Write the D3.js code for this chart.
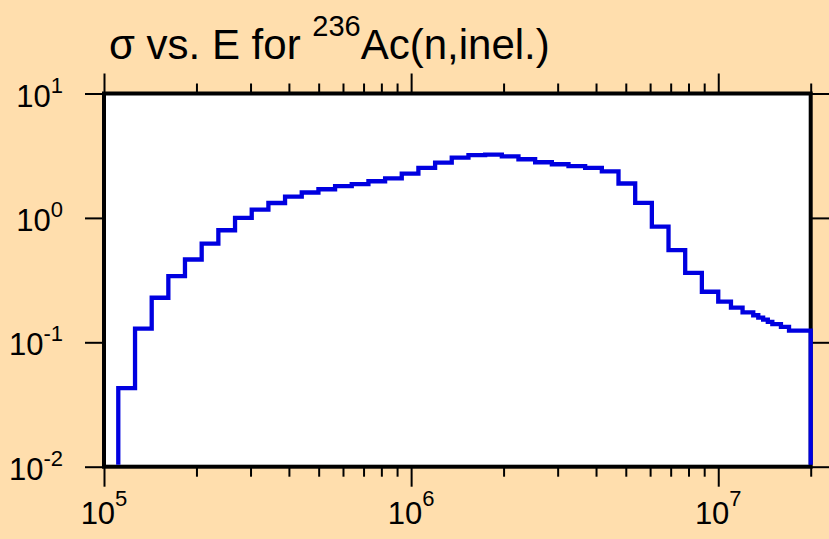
<!DOCTYPE html>
<html><head><meta charset="utf-8">
<script src="https://cdn.jsdelivr.net/npm/d3@7"></script>
<style>
body{margin:0;background:#FFDEAD;}
svg{display:block;}
text{font-family:"Liberation Sans",Arial,Helvetica,sans-serif;fill:#000;}
</style>
</head><body>
<svg id="chart" width="829" height="539"></svg>
<script>
// Bin edges (eV) and cross sections (b)
const binEdges = [1.113e5,1.262e5,1.430e5,1.620e5,1.835e5,2.080e5,2.357e5,2.671e5,3.027e5,3.430e5,
  3.886e5,4.404e5,4.991e5,5.655e5,6.407e5,7.261e5,8.228e5,9.322e5,1.056e6,1.197e6,
  1.356e6,1.537e6,1.742e6,1.974e6,2.236e6,2.534e6,2.872e6,3.254e6,3.687e6,4.178e6,
  4.734e6,5.365e6,6.079e6,6.888e6,7.805e6,8.845e6,1.0e7,1.1e7,1.2e7,1.3e7,
  1.35e7,1.4e7,1.45e7,1.5e7,1.6e7,1.7e7,2.0e7];
const sigmaValues = [0.0428,0.129,0.228,0.340,0.463,0.622,0.796,1.00,1.167,1.318,
  1.48,1.60,1.70,1.80,1.87,1.97,2.08,2.27,2.52,2.78,
  3.05,3.20,3.22,3.12,2.96,2.80,2.70,2.61,2.52,2.37,
  1.89,1.32,0.850,0.551,0.362,0.255,0.212,0.190,0.174,0.165,
  0.158,0.152,0.146,0.140,0.133,0.124];
const xDomain = [1e5, 2e7];
const yDomain = [1e-2, 1e1];
const xMajorTicks = [1e5, 1e6, 1e7];
const xTickExponents = ["5", "6", "7"];
const yMajorTicks = [1e1, 1e0, 1e-1, 1e-2];
const yTickExponents = ["1", "0", "-1", "-2"];
const titleMain = "σ vs. E for ";
const titleSup = "236";
const titleRest = "Ac(n,inel.)";

const svg = d3.select("#chart");
const L = 104, R = 810.7, T = 93.5, B = 466.7;
const x = d3.scaleLog().domain(xDomain).range([L, R]);
const y = d3.scaleLog().domain(yDomain).range([B, T]);

// minor ticks for x
const xMinor = [];
for (let d = 1e5; d <= 1e7; d *= 10) for (let k = 2; k <= 9; k++) { const v = k*d; if (v <= xDomain[1]*1.0001) xMinor.push(v); }

// plot area
svg.append("rect").attr("x", L).attr("y", T).attr("width", R-L).attr("height", B-T).attr("fill", "#fff");

function tickAxis(gen, tr, vals, size) {
  const g = svg.append("g").attr("transform", tr)
    .call(gen.tickValues(vals).tickSize(size).tickSizeOuter(0).tickFormat(""));
  g.select(".domain").remove();
  g.selectAll(".tick line").attr("stroke", "#000").attr("stroke-width", 2);
  return g;
}
tickAxis(d3.axisTop(x), `translate(0,${T})`, xMajorTicks, 20);
tickAxis(d3.axisTop(x), `translate(0,${T})`, xMinor, 10);
tickAxis(d3.axisBottom(x), `translate(0,${B})`, xMajorTicks, 20);
tickAxis(d3.axisBottom(x), `translate(0,${B})`, xMinor, 10);
tickAxis(d3.axisLeft(y), `translate(${L},0)`, yMajorTicks, 19);
tickAxis(d3.axisRight(y), `translate(${R},0)`, yMajorTicks, 19);

// frame
svg.append("rect").attr("x", L).attr("y", T).attr("width", R-L).attr("height", B-T)
  .attr("fill", "none").attr("stroke", "#000").attr("stroke-width", 4);

// step line
const pts = [[binEdges[0], yDomain[0]]];
sigmaValues.forEach((s, i) => pts.push([binEdges[i], s]));
pts.push([binEdges[binEdges.length-1], sigmaValues[sigmaValues.length-1]]);
pts.push([binEdges[binEdges.length-1], yDomain[0]]);
svg.append("clipPath").attr("id", "clip").append("rect")
  .attr("x", L).attr("y", T+2).attr("width", R-L+3).attr("height", B-T-4);
const line = d3.line().x(d => x(d[0])).y(d => y(d[1])).curve(d3.curveStepAfter);
svg.append("path").attr("d", line(pts)).attr("fill", "none")
  .attr("stroke", "#0000e0").attr("stroke-width", 4.3).attr("clip-path", "url(#clip)");

// x labels
xMajorTicks.forEach((v, i) => {
  const t = svg.append("text").attr("x", x(v)).attr("y", 524).attr("text-anchor", "middle").attr("font-size", 31);
  t.append("tspan").text("10");
  t.append("tspan").attr("font-size", 22).attr("dy", -18).text(xTickExponents[i]);
});
// y labels
yMajorTicks.forEach((v, i) => {
  const t = svg.append("text").attr("x", 63).attr("y", y(v)+13).attr("text-anchor", "end").attr("font-size", 31);
  t.append("tspan").text("10");
  t.append("tspan").attr("font-size", 22).attr("dy", -14).text(yTickExponents[i]);
});
// title
const tt = svg.append("text").attr("x", 109).attr("y", 59).attr("font-size", 42);
tt.append("tspan").text(titleMain);
tt.append("tspan").attr("font-size", 29).attr("dy", -23).text(titleSup);
tt.append("tspan").attr("dy", 23).text(titleRest);
</script>
</body></html>
